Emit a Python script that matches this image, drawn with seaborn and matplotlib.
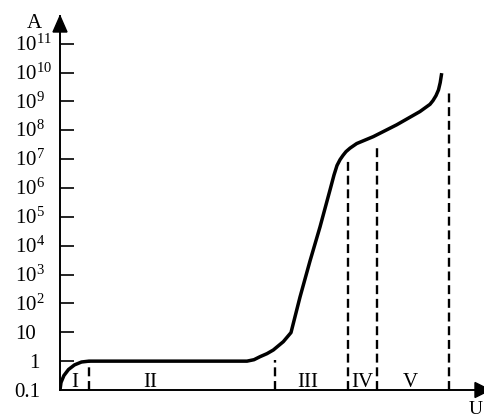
import numpy as np
import pandas as pd
import matplotlib
matplotlib.use("Agg")
import matplotlib.pyplot as plt
import matplotlib.transforms as mtransforms
from matplotlib.patches import Polygon
import seaborn as sns

sns.set_theme(style="white")
plt.rcParams["font.family"] = ["Liberation Serif", "DejaVu Serif"]
plt.rcParams["mathtext.fontset"] = "custom"
plt.rcParams["mathtext.rm"] = "Liberation Serif"
plt.rcParams["mathtext.it"] = "Liberation Serif:italic"

# ---- data ----
voltage = [0, 1.0, 3.9, 8.5, 14.5, 21.5, 29, 187, 194, 200, 207, 213.3, 223.3,
           231, 240, 250, 260, 270, 274, 277, 280, 283, 286, 290, 296.7,
           313.3, 336.7, 360, 366, 370, 373, 376, 378.5, 380.2, 381.7]
log_current = [-1.0, -0.74, -0.50, -0.29, -0.13, -0.03, 0.0, 0.0, 0.05, 0.154,
               0.26, 0.386, 0.674, 0.99, 2.22, 3.47, 4.65, 5.93, 6.45, 6.78,
               6.98, 7.13, 7.26, 7.38, 7.54, 7.78, 8.19, 8.65, 8.8, 8.9,
               9.03, 9.2, 9.4, 9.65, 9.98]
boundary_u = [28.5, 215, 288, 317, 389]
boundary_top_exp = [0.0, 0.04, 6.97, 7.49, 9.40]
region_names = ["I", "II", "III", "IV", "V"]
region_u = [15, 90, 248, 302, 350]
region_label_exp = -0.9
tick_exps = [1, 2, 3, 4, 5, 6, 7, 8, 9, 10, 11]
tick_labels = ["10"] + [r"$10^{%d}$" % e for e in range(2, 12)]

current = 10.0 ** np.array(log_current)
df = pd.DataFrame({"U": voltage, "A": current})

fig = plt.figure(figsize=(4.84, 4.17), dpi=100)
ax = fig.add_axes([60 / 484, 27 / 417, 424 / 484, 374 / 417])

sns.lineplot(data=df, x="U", y="A", ax=ax, color="black", lw=2.5,
             sort=False, estimator=None, solid_joinstyle="round",
             solid_capstyle="butt")
ax.set_yscale("log")
ax.set_xlim(0, 424)
ax.set_ylim(0.1, 10 ** 11.96)

ax.vlines(boundary_u, 0.1, [10.0 ** e for e in boundary_top_exp],
          colors="black", linestyles=(0, (3.8, 2.0)), lw=1.7)

for name, u in zip(region_names, region_u):
    ax.text(u, 10.0 ** region_label_exp, name, ha="center", va="baseline",
            fontsize=15, color="black")

for s in ["top", "right"]:
    ax.spines[s].set_visible(False)
for s in ["left", "bottom"]:
    ax.spines[s].set_color("black")
    ax.spines[s].set_linewidth(1.4)

ax.set_xticks([])
ax.set_yticks([10.0 ** e for e in [0] + tick_exps])
ax.set_yticklabels([])
ax.yaxis.set_minor_locator(matplotlib.ticker.NullLocator())
ax.tick_params(axis="y", which="major", direction="in", length=10, width=1.2,
               color="black", left=True)
ax.set_xlabel("")
ax.set_ylabel("")

ytr = ax.get_yaxis_transform()
tr_left = mtransforms.offset_copy(ytr, fig=fig, x=-45, y=-7, units="dots")
tr_right = mtransforms.offset_copy(ytr, fig=fig, x=-20, y=-7, units="dots")
for e, lab in zip(tick_exps, tick_labels):
    ax.text(0, 10.0 ** e, lab, transform=tr_left, ha="left", va="baseline",
            fontsize=15, color="black")
ax.text(0, 1.0, "1", transform=tr_right, ha="right", va="baseline",
        fontsize=15, color="black")
ax.text(0, 0.1, "0.1", transform=tr_right, ha="right", va="baseline",
        fontsize=15, color="black")

# axis arrowheads
y_base = (390 - 32) / 374
ax.add_patch(Polygon([[0, 1.0], [-7 / 424, y_base], [7 / 424, y_base]],
                     closed=True, transform=ax.transAxes, clip_on=False,
                     color="black"))
x_tip = (490 - 60) / 424
x_base = (475 - 60) / 424
ax.add_patch(Polygon([[x_tip, 0], [x_base, 7.5 / 374], [x_base, -7.5 / 374]],
                     closed=True, transform=ax.transAxes, clip_on=False,
                     color="black"))

fig.text(34 / 484, (417 - 28) / 417, "A", ha="center", va="baseline",
         fontsize=15, color="black")
fig.text(469 / 484, (417 - 414) / 417, "U", ha="left", va="baseline",
         fontsize=14, color="black")

fig.savefig("out.png", dpi=100)
